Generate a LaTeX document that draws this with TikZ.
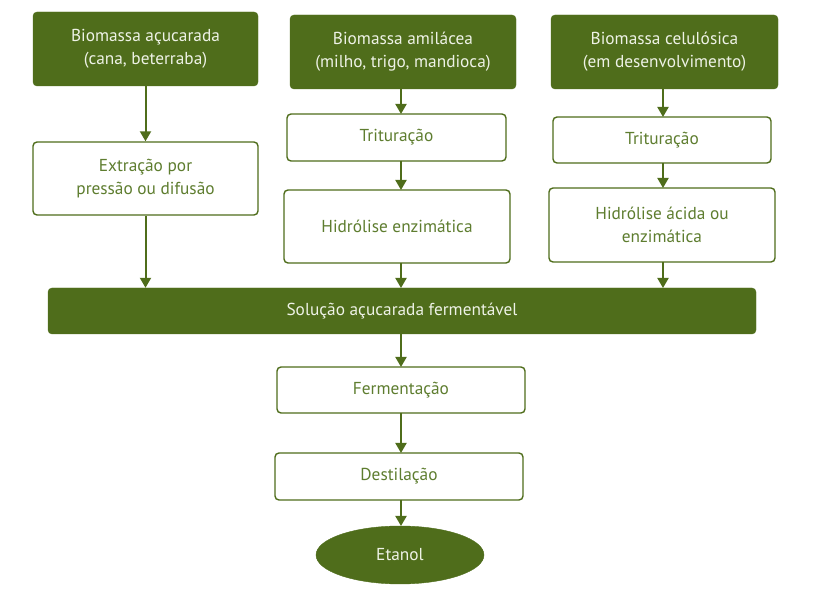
\documentclass[tikz,border=0pt]{standalone}
\usepackage{fontspec}
\setmainfont{PT Sans}
\usetikzlibrary{shapes.geometric,arrows.meta}
\definecolor{dg}{HTML}{4F6D1B}
\definecolor{tg}{HTML}{5E7D2F}
\definecolor{lt}{HTML}{EEF2E6}
\tikzset{
  txt/.style={font=\fontsize{17.3}{23}\selectfont},
  darkbox/.style={txt,draw=dg,fill=dg,rounded corners=4pt,text=lt,align=center,inner sep=0pt},
  lightbox/.style={txt,draw=dg,line width=1.4pt,fill=white,rounded corners=4pt,text=tg,align=center,inner sep=0pt},
  arr/.style={draw=dg,line width=2pt,-{Triangle[length=10pt,width=11pt]}},
}
\begin{document}
\begin{tikzpicture}[x=1pt,y=-1pt]
\useasboundingbox (0,0) rectangle (815,593);
% column 1
\node[darkbox,minimum width=225pt,minimum height=74pt] (b1) at (145.5,49) {Biomassa açucarada\\(cana, beterraba)};
\node[lightbox,minimum width=225pt,minimum height=73pt] (e1) at (145.5,178.5) {Extração por\\pressão ou difusão};
% column 2
\node[darkbox,minimum width=226pt,minimum height=74pt] (b2) at (403,52) {Biomassa amilácea\\(milho, trigo, mandioca)};
\node[lightbox,minimum width=219pt,minimum height=47pt] (t2) at (396.5,137.5) {Trituração};
\node[lightbox,minimum width=226pt,minimum height=73pt] (h2) at (397,226.5) {Hidrólise enzimática};
% column 3
\node[darkbox,minimum width=227pt,minimum height=74pt] (b3) at (664.5,52) {Biomassa celulósica\\(em desenvolvimento)};
\node[lightbox,minimum width=218pt,minimum height=46pt] (t3) at (662,140) {Trituração};
\node[lightbox,minimum width=226pt,minimum height=74pt] (h3) at (662,225) {Hidrólise ácida ou\\enzimática};
% merge
\node[darkbox,minimum width=708pt,minimum height=46pt] (s) at (402,311) {Solução açucarada fermentável};
\node[lightbox,minimum width=248pt,minimum height=46pt] (f) at (401,390) {Fermentação};
\node[lightbox,minimum width=248pt,minimum height=47pt] (d) at (399,476.5) {Destilação};
\node[txt,ellipse,draw=dg,fill=dg,text=lt,inner sep=0pt,minimum width=168pt,minimum height=58pt] (et) at (400,555) {Etanol};
% arrows
\draw[arr] (b1.south) -- (e1.north);
\draw[arr] (e1.south) -- (e1.south |- s.north);
\draw[arr] (401,89) -- (401,114);
\draw[arr] (401,161) -- (401,190);
\draw[arr] (401,263) -- (401,288);
\draw[arr] (663,89) -- (663,117);
\draw[arr] (663,163) -- (663,188);
\draw[arr] (663,262) -- (663,288);
\draw[arr] (401,334) -- (401,367);
\draw[arr] (401,413) -- (401,453);
\draw[arr] (401,500) -- (401,526);
\end{tikzpicture}
\end{document}
